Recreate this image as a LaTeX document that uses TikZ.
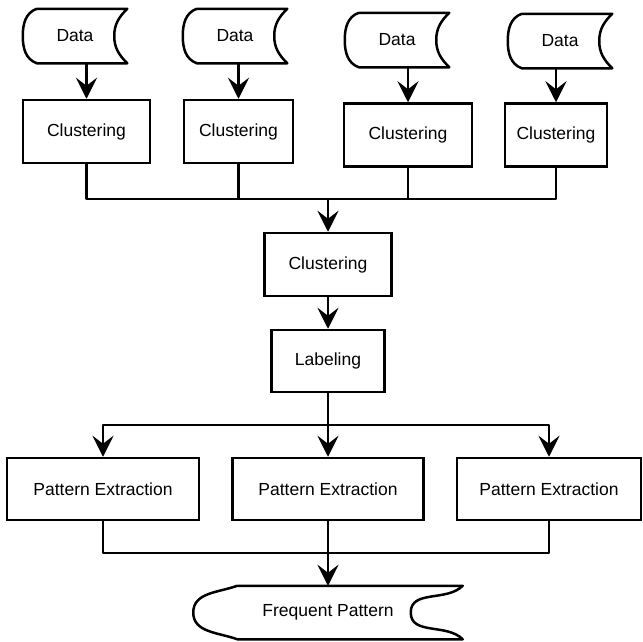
\documentclass[tikz,border=0pt]{standalone}
\usepackage{fontspec}
\setmainfont{Liberation Sans}
\usetikzlibrary{arrows.meta}

\begin{document}
\begin{tikzpicture}[x=1pt,y=-1pt,line width=2.5pt,line join=round,
	txt/.style={inner sep=0pt,font=\fontsize{17.5}{21}\selectfont},
	box/.style={txt,draw,line join=miter},
	arr/.style={-{Stealth[length=21pt,width=21pt,inset=8pt]}}]
			\def\storeshape#1#2#3{%
				\draw ([xshift=#2]#1.north west) -- (#1.north east)
				to[out=225,in=90] ([xshift=-#3]#1.east)
				to[out=-90,in=135] (#1.south east) -- ([xshift=#2]#1.south west)
				to[out=160,in=-90] (#1.west)
				to[out=90,in=200] ([xshift=#2]#1.north west);}
			\useasboundingbox (0,0) rectangle (643,641);
			% inputs and first clustering
			\foreach \i/\dx/\dy/\cx/\cy/\cw in {1/75/36/86.5/131.5/127,2/235/36/238.5/131.5/109,3/397/40/408/135/128,4/560/41/556/135/102}{
				\node[txt,minimum width=102pt,minimum height=52pt] (d\i) at (\dx,\dy) {Data};
				\storeshape{d\i}{14pt}{13pt}
				\node[box,minimum width=\cw pt,minimum height=63pt] (c\i) at (\cx,\cy) {Clustering};
				\draw[arr] (c\i.north |- d\i.south) -- (c\i.north);
			}
			\coordinate (j1) at (328,199);
			\foreach \i in {1,...,4}\draw (c\i.south) |- (j1);
			\node[box,minimum width=127pt,minimum height=63pt] (c5) at (328,264.5) {Clustering};
			\draw[arr] (j1) -- (c5.north);
			\node[box,minimum width=113pt,minimum height=62pt] (lab) at (328,361) {Labeling};
			\draw[arr] (c5) -- (lab);
			% pattern extraction
			\coordinate (j2) at (328,425);
			\draw (lab.south) -- (j2);
			\foreach \i/\px/\pw in {1/103/192,2/328/191,3/549/184}{
				\node[box,minimum width=\pw pt,minimum height=62pt] (pe\i) at (\px,489) {Pattern Extraction};
				\draw[arr] (j2) -| (pe\i.north);
			}
			\coordinate (j3) at (328,553);
			\draw (pe1.south) |- (j3);
			\draw (pe3.south) |- (j3);
			\node[txt,minimum width=267pt,minimum height=51pt] (fp) at (328,612.5) {Frequent Pattern};
			\storeshape{fp}{44pt}{52pt}
			\draw[arr] (pe2) -- (fp);
	\end{tikzpicture}
\end{document}
